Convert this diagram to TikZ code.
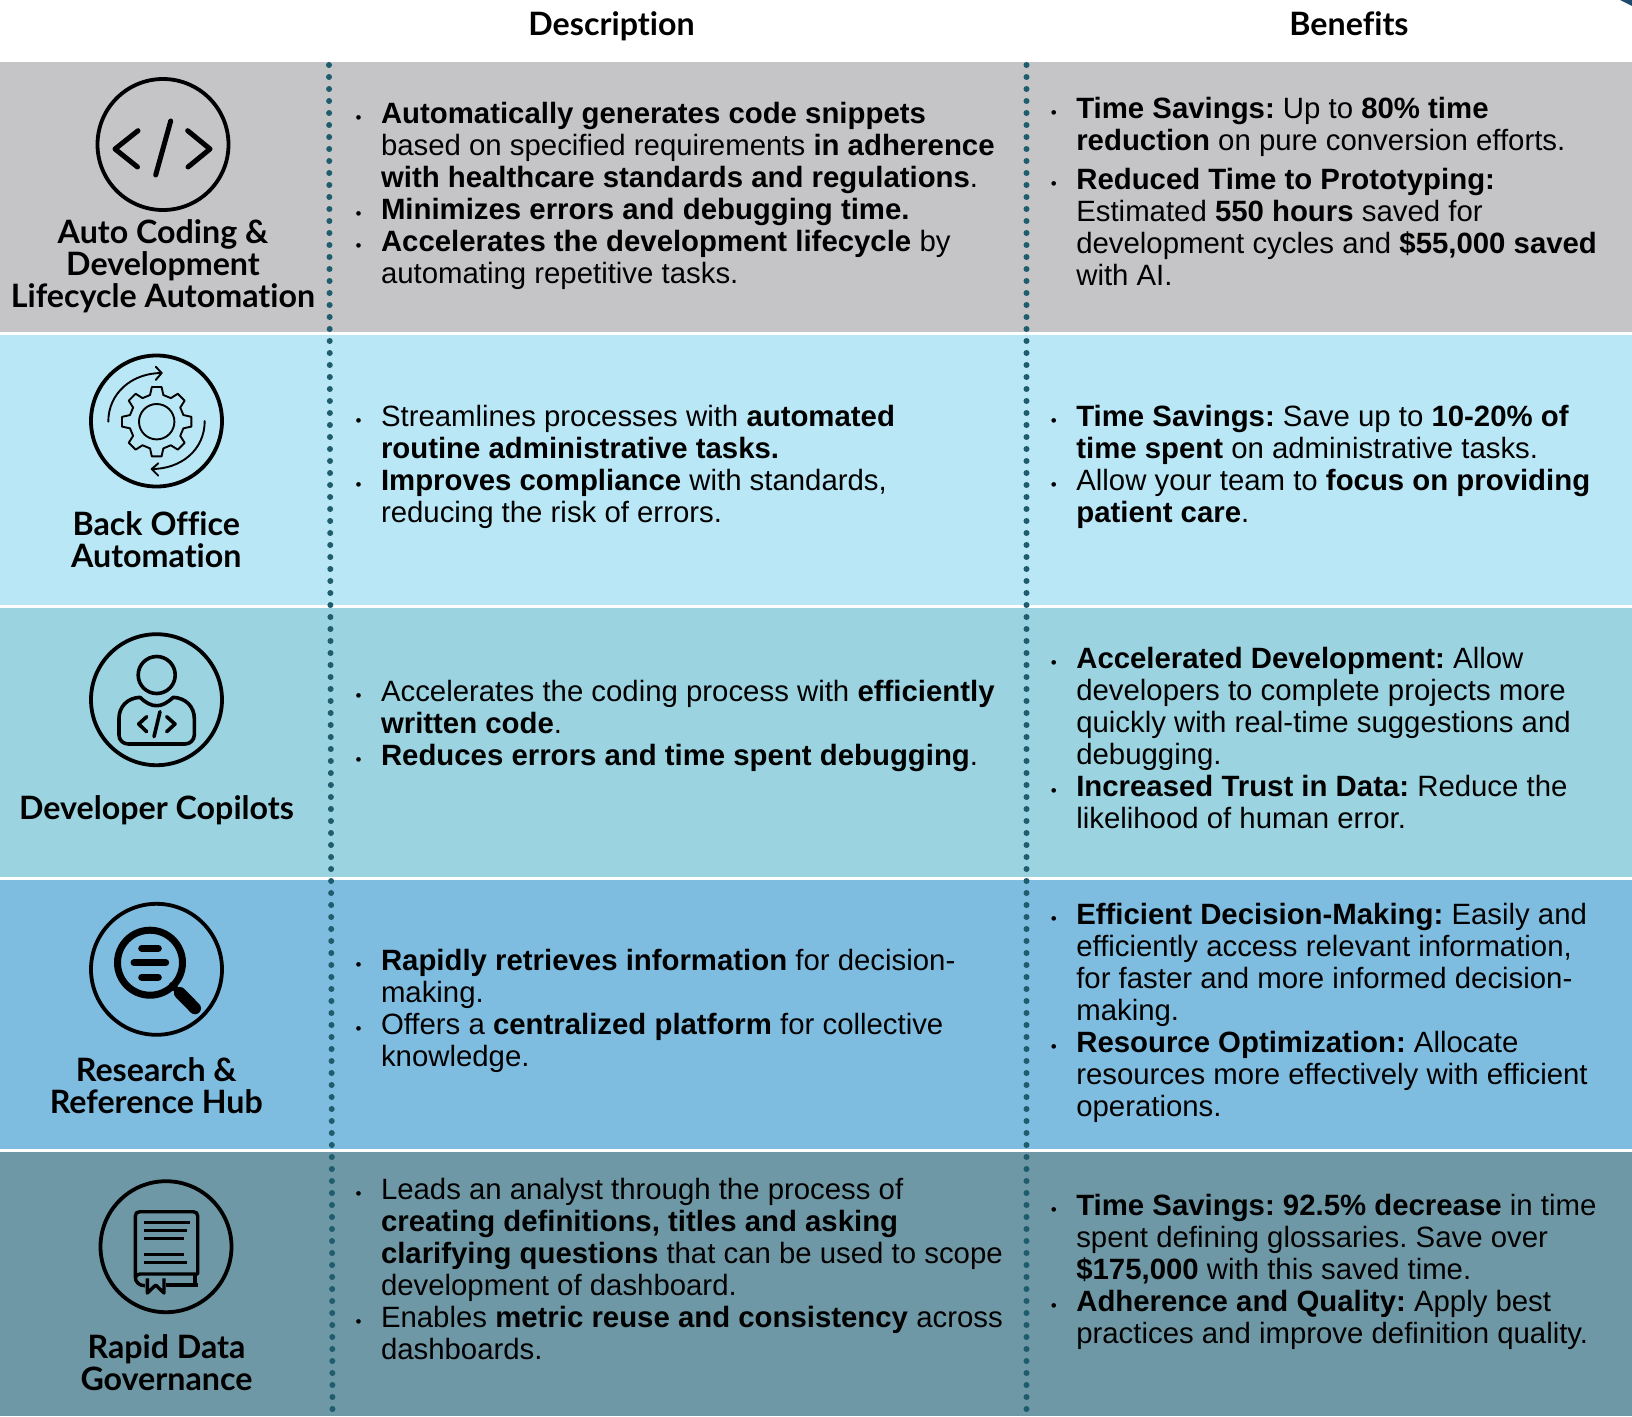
\documentclass[tikz,border=0pt]{standalone}
\usepackage{fontspec}
\setmainfont{Liberation Sans}
\newfontfamily\latofont[Ligatures=NoCommon]{Lato}
\definecolor{bandA}{HTML}{C5C5C7}
\definecolor{bandB}{HTML}{B9E7F5}
\definecolor{bandC}{HTML}{9CD3E1}
\definecolor{bandD}{HTML}{7FBDE0}
\definecolor{bandE}{HTML}{6F98A6}
\definecolor{dotline}{HTML}{1F5C6E}
\definecolor{cornerblue}{HTML}{1F4A6E}
\newcommand{\bul}{\leavevmode\llap{\fontsize{17}{17}\selectfont •\hspace{19.5pt}}}
\newcommand{\bb}[1]{\textbf{#1}}
\tikzset{
  cell/.style={anchor=north west,inner sep=0pt,outer sep=0pt,align=left,yshift=22.4pt,
    font=\fontsize{29.36}{32}\selectfont\frenchspacing},
  rowlabel/.style={anchor=base,inner sep=0pt,font=\latofont\bfseries\fontsize{32.2}{32}\selectfont},
  heading/.style={rowlabel},
  ring/.style={draw=black,line width=3.8pt},
  glyph/.style={draw=black,line cap=round,line join=round},
  vdots/.style={draw=dotline,line width=6pt,line cap=round,dash pattern=on 0pt off 12pt},
}
\begin{document}
\begin{tikzpicture}[x=1pt,y=-1pt]
\useasboundingbox (0,0) rectangle (1632,1416);
\fill[white] (0,0) rectangle (1632,1416);
\fill[cornerblue] (1620,0) -- (1632,0) -- (1632,6) -- cycle;
% bands
\fill[bandA] (0,62) rectangle (1632,332);
\fill[bandB] (0,335) rectangle (1632,605);
\fill[bandC] (0,608) rectangle (1632,877);
\fill[bandD] (0,880) rectangle (1632,1149);
\fill[bandE] (0,1152) rectangle (1632,1416);
% dotted separators
\coordinate (dl1) at (329,65); \coordinate (dl2) at (332.5,1416);
\coordinate (dr1) at (1026.5,65); \coordinate (dr2) at (1026.5,1416);
\draw[vdots] (dl1) -- (dl2);
\draw[vdots] (dr1) -- (dr2);
% headings
\node[heading] (h1) at (611.5,35) {Description};
\node[heading] (h2) at (1349,35) {Benefits};
% row labels
\node[rowlabel] (l1a) at (163,243.5) {Auto Coding \&};
\node[rowlabel] (l1b) at (163,275.5) {Development};
\node[rowlabel] (l1c) at (163,307.5) {Lifecycle Automation};
\node[rowlabel] (l2a) at (156.3,535) {Back Office};
\node[rowlabel] (l2b) at (156.3,567) {Automation};
\node[rowlabel] (l3a) at (156.5,819) {Developer Copilots};
\node[rowlabel] (l4a) at (156.3,1081) {Research \&};
\node[rowlabel] (l4b) at (156.3,1113) {Reference Hub};
\node[rowlabel] (l5a) at (166.5,1358) {Rapid Data};
\node[rowlabel] (l5b) at (166.5,1390) {Governance};
% description column
\node[cell] (d1) at (381,124.7) {\bul\bb{Automatically generates code snippets}\\
 based on specified requirements \bb{in adherence}\\
 \bb{with healthcare standards and regulations}.\\
 \bul\bb{Minimizes errors and debugging time.}\\
 \bul\bb{Accelerates the development lifecycle} by\\
 automating repetitive tasks.};
\node[cell] (d2) at (381,427.2) {\bul Streamlines processes with \bb{automated}\\
 \bb{routine administrative tasks.}\\
 \bul\bb{Improves compliance} with standards,\\
 reducing the risk of errors.};
\node[cell] (d3) at (381,702.5) {\bul Accelerates the coding process with \bb{efficiently}\\
 \bb{written code}.\\
 \bul\bb{Reduces errors and time spent debugging}.};
\node[cell] (d4) at (381,972.1) {\bul\bb{Rapidly retrieves information} for decision-\\
 making.\\
 \bul Offers a \bb{centralized platform} for collective\\
 knowledge.};
\node[cell] (d5) at (381,1201) {\bul Leads an analyst through the process of\\
 \bb{creating definitions, titles and asking}\\
 \bb{clarifying questions} that can be used to scope\\
 development of dashboard.\\
 \bul Enables \bb{metric reuse and consistency} across\\
 dashboards.};
% benefits column
\node[cell] (b1) at (1076.3,120) {\bul\bb{Time Savings:} Up to \bb{80\% time}\\
 \bb{reduction} on pure conversion efforts.\\[6.8pt]
 \bul\bb{Reduced Time to Prototyping:}\\
 Estimated \bb{550 hours} saved for\\
 development cycles and \bb{\$55,000 saved}\\
 with AI.};
\node[cell] (b2) at (1076.3,427.2) {\bul\bb{Time Savings:} Save up to \bb{10-20\% of}\\
 \bb{time spent} on administrative tasks.\\
 \bul Allow your team to \bb{focus on providing}\\
 \bb{patient care}.};
\node[cell] (b3) at (1076.3,669.2) {\bul\bb{Accelerated Development:} Allow\\
 developers to complete projects more\\
 quickly with real-time suggestions and\\
 debugging.\\
 \bul\bb{Increased Trust in Data:} Reduce the\\
 likelihood of human error.};
\node[cell] (b4) at (1076.3,925.4) {\bul\bb{Efficient Decision-Making:} Easily and\\
 efficiently access relevant information,\\
 for faster and more informed decision-\\
 making.\\
 \bul\bb{Resource Optimization:} Allocate\\
 resources more effectively with efficient\\
 operations.};
\node[cell] (b5) at (1076.3,1217) {\bul\bb{Time Savings: 92.5\% decrease} in time\\
 spent defining glossaries. Save over\\
 \bb{\$175,000} with this saved time.\\
 \bul\bb{Adherence and Quality:} Apply best\\
 practices and improve definition quality.};
% icon 1: code
\draw[ring] (163,144.5) circle (65.5);
\draw[glyph,line width=5pt] (138,130.7) -- (115,149) -- (137.5,167);
\draw[glyph,line width=5pt] (170.7,121) -- (155.7,175);
\draw[glyph,line width=5pt] (187.7,130.7) -- (210,149) -- (188,167);
% icon 2: gear
\draw[ring] (156.5,421) circle (65.5);
\begin{scope}[shift={(156.7,421.7)}]
\draw[glyph,line width=1.9pt] (0,0) circle (17.7);
\draw[glyph,line width=1.9pt] (-14:27.5)
  \foreach \a in {0,45,...,315}{ -- (\a-14:27.5) -- (\a-8:35) -- (\a+8:35) -- (\a+14:27.5) } -- cycle;
\end{scope}
\draw[glyph,line width=1.9pt] (108.3,421.7) .. controls (108.3,393) and (132,373) .. (161.7,373);
\draw[glyph,line width=1.9pt] (155.7,366.7) -- (161.7,373) -- (155.7,380);
\draw[glyph,line width=1.9pt] (204.7,421) .. controls (204.7,450) and (181,469) .. (151.7,469);
\draw[glyph,line width=1.9pt] (158.3,463.3) -- (151.7,469) -- (158.3,475.7);
% icon 3: developer
\draw[ring] (156.5,699.7) circle (65.5);
\draw[glyph,line width=3.6pt] (156.7,675) circle (18.5);
\draw[glyph,line width=3.6pt] (140,697.3) .. controls (146,703) and (151,705.7) .. (156.7,705.7)
  .. controls (162,705.7) and (167,703) .. (173.3,697.3)
  .. controls (186,698) and (194.3,707) .. (194.3,718.3) -- (194.3,735)
  .. controls (194.3,740) and (190,744) .. (185,744) -- (128.3,744)
  .. controls (123,744) and (119,740) .. (119,735) -- (119,718.3)
  .. controls (119,707) and (127,698) .. (140,697.3) -- cycle;
\draw[glyph,line width=3.6pt] (146.7,716.7) -- (138.7,724) -- (146.7,731.7);
\draw[glyph,line width=3.6pt] (160,711.7) -- (154,736.7);
\draw[glyph,line width=3.6pt] (166.7,716.7) -- (175,724) -- (166.7,731.7);
% icon 4: magnifier
\draw[ring] (156.5,969.3) circle (65.5);
\draw[draw=black,line width=7pt] (150,962.7) circle (32.5);
\draw[glyph,line width=7pt] (141.7,948.3) -- (158.3,948.3);
\draw[glyph,line width=7pt] (134,962.7) -- (165.7,962.7);
\draw[glyph,line width=7pt] (141.7,977.3) -- (158.3,977.3);
\draw[glyph,line width=6pt] (172,985) -- (180,993);
\draw[glyph,line width=12pt] (180,993) -- (195,1008.3);
% icon 5: book
\draw[ring] (166,1246.7) circle (65.5);
\draw[glyph,line width=3.4pt,line cap=butt] (145,1285.7) .. controls (139,1285.7) and (135.3,1282) .. (135.3,1277)
  -- (135.3,1216) .. controls (135.3,1213) and (137,1211.7) .. (140,1211.7)
  -- (193,1211.7) .. controls (196,1211.7) and (197.7,1213) .. (197.7,1216) -- (197.7,1274)
  -- (140,1274) .. controls (137,1274) and (135.3,1276) .. (135.3,1278);
\draw[glyph,line width=3.4pt,line cap=butt] (166,1285) -- (197.7,1285);
\draw[glyph,line width=3.4pt,line cap=butt] (195,1274) -- (195,1285);
\draw[fill=bandE,glyph,line width=3.4pt,line cap=butt] (147.3,1278.3) -- (147.3,1293) -- (155.7,1285) -- (164,1293) -- (164,1278.3);
\foreach \yy/\xx in {1222.3/190,1230.3/186.7,1238.3/184,1254.7/184,1262.7/187.3}
  \draw[glyph,line width=3pt,line cap=butt] (144,\yy) -- (\xx,\yy);
\end{tikzpicture}
\end{document}
